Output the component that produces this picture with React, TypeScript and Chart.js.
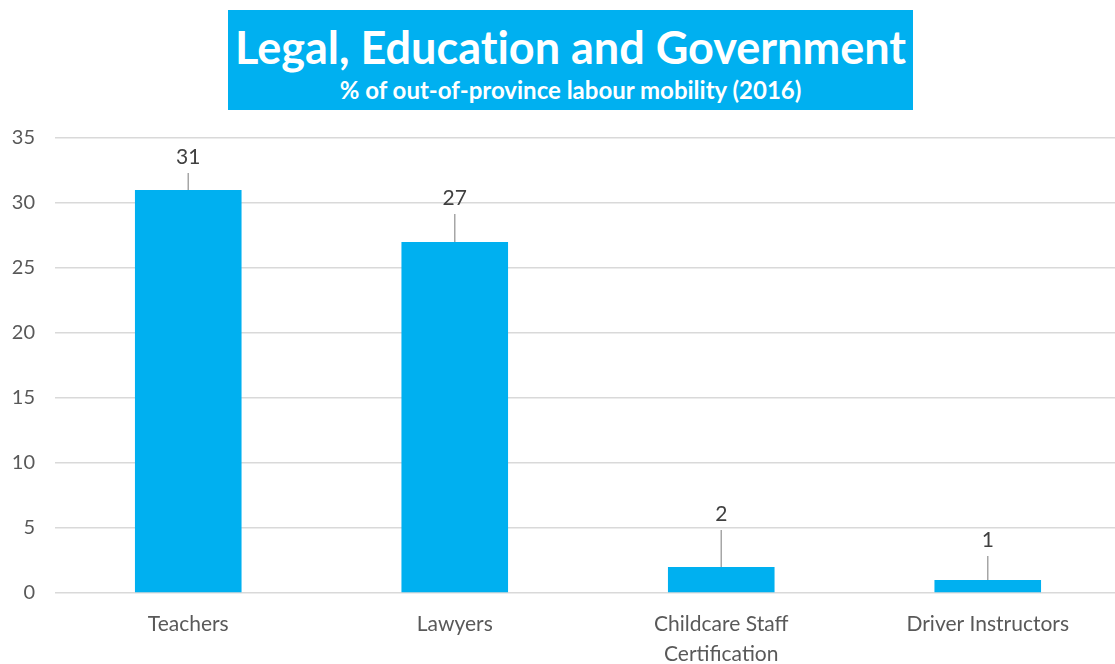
import React, { useEffect, useRef } from "react";
import { Chart, registerables } from "chart.js";

Chart.register(...registerables);

const categories: (string | string[])[] = [
  "Teachers",
  "Lawyers",
  ["Childcare Staff", "Certification"],
  "Driver Instructors",
];
const mobilityPct = [31, 27, 2, 1];
const yTicks = [0, 5, 10, 15, 20, 25, 30, 35];

const titleText = "Legal, Education and Government";
const subtitleText = "% of out-of-province labour mobility (2016)";

// label lift above bar top (px) – styling only
const labelLift = [33, 44, 53, 40];

const BLUE = "#00B0F0";
const FONT = "Lato, 'Open Sans', sans-serif";

const leaderLabels = {
  id: "leaderLabels",
  afterDatasetsDraw(chart: any) {
    const ctx = chart.ctx;
    const meta = chart.getDatasetMeta(0);
    ctx.save();
    meta.data.forEach((bar: any, i: number) => {
      const x = bar.x;
      const top = bar.y;
      const labelY = top - labelLift[i];
      ctx.strokeStyle = "#a6a6a6";
      ctx.lineWidth = 1.5;
      ctx.beginPath();
      ctx.moveTo(x, top);
      ctx.lineTo(x, labelY + 16);
      ctx.stroke();
      ctx.fillStyle = "#404040";
      ctx.font = `21px ${FONT}`;
      ctx.textAlign = "center";
      ctx.textBaseline = "middle";
      ctx.fillText(String(mobilityPct[i]), x, labelY);
    });
    ctx.restore();
  },
};

export default function App() {
  const ref = useRef<HTMLCanvasElement>(null);
  useEffect(() => {
    if (!ref.current) return;
    const chart = new Chart(ref.current, {
      type: "bar",
      data: {
        labels: categories,
        datasets: [
          {
            data: mobilityPct,
            backgroundColor: BLUE,
            categoryPercentage: 1,
            barPercentage: 0.4,
          },
        ],
      },
      options: {
        animation: false,
        responsive: false,
        maintainAspectRatio: false,
        layout: { padding: { top: 138, right: 0, left: 0, bottom: 0 } },
        plugins: {
          legend: { display: false },
          tooltip: { enabled: false },
          title: { display: false },
        },
        scales: {
          x: {
            grid: { display: false, drawTicks: false },
            border: { display: false },
            ticks: {
              color: "#595959",
              font: { family: FONT, size: 21, lineHeight: 1.45 },
              padding: 16,
              maxRotation: 0,
            },
            afterFit(scale: any) {
              scale.height = 71;
            },
          },
          y: {
            min: 0,
            max: 35,
            afterBuildTicks(scale: any) {
              scale.ticks = yTicks.map((v) => ({ value: v }));
            },
            grid: { color: "#d9d9d9", lineWidth: 1.5, drawTicks: false },
            border: { display: false },
            ticks: {
              color: "#595959",
              font: { family: FONT, size: 20 },
              padding: 20,
            },
            afterFit(scale: any) {
              scale.width = 55;
            },
          },
        },
      },
      plugins: [leaderLabels],
    });
    return () => chart.destroy();
  }, []);

  return (
    <div style={{ position: "absolute", left: 0, top: 0, width: 1115, height: 664, background: "#fff", overflow: "hidden" }}>
      <canvas ref={ref} width={1121} height={664} style={{ position: "absolute", left: 0, top: 0 }} />
      <div
        style={{
          position: "absolute",
          left: 228,
          top: 10,
          width: 685,
          height: 100,
          background: BLUE,
          color: "#fff",
          textAlign: "center",
          fontFamily: FONT,
          fontWeight: "bold",
          fontVariantLigatures: "none",
          fontFeatureSettings: '"liga" 0, "clig" 0',
        }}
      >
        <div style={{ fontSize: 45, lineHeight: "52px", marginTop: 11 }}>{titleText}</div>
        <div style={{ fontSize: 24, lineHeight: "28px", marginTop: 3 }}>{subtitleText}</div>
      </div>
    </div>
  );
}
